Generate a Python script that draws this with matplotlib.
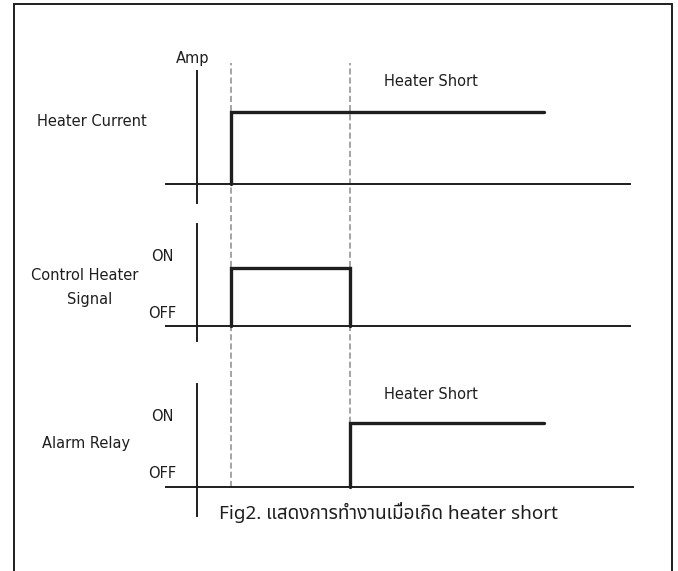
"""Timing diagram: heater short (Fig2)."""
import matplotlib
matplotlib.use("Agg")
import matplotlib.pyplot as plt
from matplotlib import font_manager, ft2font

W, H = 678, 571
DPI = 100

# timing data (time units, t=0 sits on the vertical axis)
T_ON = 1.0
T_SHORT = 4.5
T_END = 10.2

heater_t = [T_ON, T_ON, T_END]
heater_lvl = [0, 1, 1]
control_t = [T_ON, T_ON, T_SHORT, T_SHORT]
control_lvl = [0, 1, 1, 0]
alarm_t = [T_SHORT, T_SHORT, T_END]
alarm_lvl = [0, 1, 1]
event_t = [T_ON, T_SHORT]

# layout (pixels, rows counted from top)
T0_PX = 197
PX_PER_T = 34.0
# baseline row, high row, axis top row, axis bottom row, baseline end (t)
PANELS = [
    (184, 112, 71, 203, 12.75),
    (326, 268, 224, 341, 12.75),
    (487, 423, 384, 516, 12.85),
]
BASE_START_T = -0.95
DASH_TOP, DASH_BOT = 63, 487

INK = "#1e1e1e"
DASH = "#8c8c8c"
FS = 10.5


def find_thai_font():
    found = []
    for fe in font_manager.fontManager.ttflist:
        try:
            cmap = ft2font.FT2Font(fe.fname).get_charmap()
        except Exception:
            continue
        if 0x0E41 in cmap and 0x0E2A in cmap and 0x0E33 in cmap:
            found.append(fe.name)
    if not found:
        return None
    for pref in ("Noto Sans Thai", "Loma", "Garuda", "Sawasdee", "Norasi"):
        if pref in found:
            return pref
    return found[0]


def main():
    fig = plt.figure(figsize=(W / DPI, H / DPI), dpi=DPI, facecolor="white")
    xlim = (-T0_PX / PX_PER_T, (W - T0_PX) / PX_PER_T)

    # overlay in pixel space for frame + labels
    ov = fig.add_axes([0, 0, 1, 1])
    ov.set_xlim(0, W)
    ov.set_ylim(H, 0)
    ov.axis("off")
    ov.patch.set_alpha(0)

    ov.plot([14, 14, 672, 672], [H + 5, 4, 4, H + 5], color=INK, lw=1.4,
            solid_joinstyle="miter")

    # event markers across all panels (own axes, drawn beneath the signals)
    tax = fig.add_axes([0, 0, 1, 1])
    tax.set_xlim(*xlim)
    tax.axis("off")
    tax.patch.set_alpha(0)
    for te in event_t:
        tax.axvline(te, ymin=1 - DASH_BOT / H, ymax=1 - DASH_TOP / H,
                    color=DASH, lw=1.1, dashes=(4, 2))

    signals = [(heater_t, heater_lvl), (control_t, control_lvl), (alarm_t, alarm_lvl)]
    for (base, high, atop, abot, bend), (t, lvl) in zip(PANELS, signals):
        ax = fig.add_axes([0, 0, 1, 1])
        ax.set_xlim(*xlim)
        span = base - high
        ax.set_ylim((base - H) / span, base / span)
        ax.axis("off")
        ax.patch.set_alpha(0)
        ax.axvline(0, ymin=1 - abot / H, ymax=1 - atop / H, color=INK, lw=1.4)
        ax.hlines(0, BASE_START_T, bend, color=INK, lw=1.4)
        ax.plot(t, lvl, color=INK, lw=2.4, solid_joinstyle="miter",
                solid_capstyle="round", zorder=4)

    labels = [
        (193, 63, "Amp", "center"),
        (37, 126, "Heater Current", "left"),
        (384, 86, "Heater Short", "left"),
        (162, 261, "ON", "center"),
        (162, 318, "OFF", "center"),
        (85, 280, "Control Heater", "center"),
        (90, 304, "Signal", "center"),
        (162, 421, "ON", "center"),
        (162, 478, "OFF", "center"),
        (42, 448, "Alarm Relay", "left"),
        (384, 399, "Heater Short", "left"),
    ]
    for x, y, s, ha in labels:
        ov.text(x, y, s, ha=ha, va="baseline", fontsize=FS, color=INK)

    thai = find_thai_font()
    fam = [thai, "DejaVu Sans"] if thai else ["DejaVu Sans"]
    ov.text(219, 519, "Fig2. แสดงการทำงานเมื่อเกิด heater short", ha="left",
            va="baseline", fontsize=13.6, color=INK, family=fam)

    fig.savefig("out.png", dpi=DPI, facecolor="white")
    plt.close(fig)


if __name__ == "__main__":
    main()
